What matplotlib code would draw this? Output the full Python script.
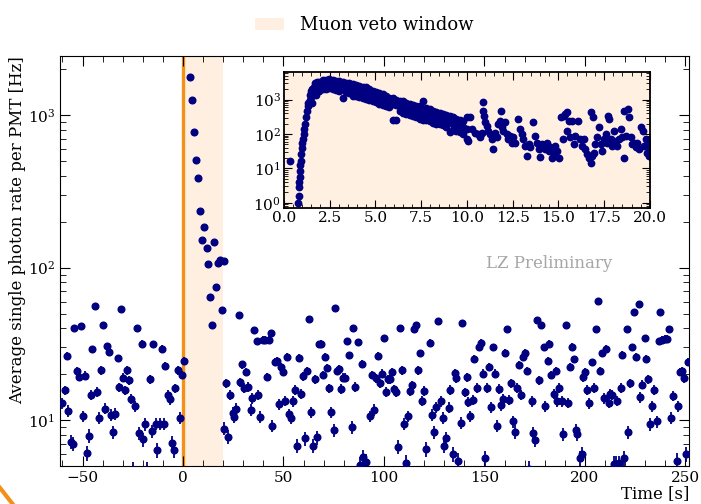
import numpy as np
import matplotlib
matplotlib.use("Agg")
import matplotlib.pyplot as plt
from matplotlib.patches import Patch
from matplotlib.lines import Line2D
from matplotlib.ticker import LogLocator, MultipleLocator, NullFormatter

# main panel: time since muon [s] and average SPE rate per PMT [Hz]
time_s = [
    -60.2, -58.9, -57.7, -57.1, -55.6, -54.6, -54.1, -52.9, -51.7, -50.9,
    -49.9, -48.6, -47.9, -46.9, -45.8, -45.1, -43.9, -42.8, -41.9, -40.9,
    -39.8, -38.7, -37.8, -36.8, -35.7, -34.8, -33.7, -32.5, -31.7, -30.8,
    -29.7, -28.9, -27.7, -26.7, -25.9, -25.0, -23.7, -22.9, -21.7, -20.5,
    -19.7, -18.7, -18.0, -16.6, -15.6, -14.8, -13.6, -12.8, -11.6, -10.4,
    -9.6, -8.8, -7.5, -6.6, -5.6, -4.5, -3.8, -2.6, -1.5, -0.6, 0.3,
    3.3, 4.5, 5.6, 6.5, 7.5, 8.6, 9.5, 10.4, 11.8, 12.3, 13.4, 14.6, 15.4,
    16.6, 17.6, 18.4, 19.4, 20.4,
    20.5, 21.2, 22.4, 23.5, 24.7, 25.4, 26.5, 27.7, 28.5, 29.5, 30.5, 31.5,
    32.5, 33.7, 34.5, 35.5, 36.7, 37.5, 38.5, 39.7, 40.6, 41.6, 42.8, 43.8,
    44.4, 45.6, 46.8, 47.6, 48.6, 49.8, 50.6, 51.7, 52.7, 53.6, 54.7, 55.7,
    56.6, 57.7, 58.7, 59.7, 60.8, 61.8, 62.5, 63.7, 64.7, 65.8, 66.7, 67.7,
    68.8, 69.8, 70.8, 71.8, 72.6, 73.8, 75.0, 75.8, 76.8, 77.8, 78.8, 79.8,
    80.8, 81.6, 82.7, 83.9, 84.7, 85.7, 86.9, 88.2, 88.9, 89.7, 90.8, 92.9,
    94.0, 94.9, 95.9, 97.0, 97.9, 99.0, 100.0, 100.8, 101.8, 103.0, 103.8,
    104.8, 105.8, 107.1, 108.0, 109.0, 110.1, 110.9, 112.1, 113.1, 113.9,
    114.9, 116.1, 116.9, 118.1, 118.9, 119.9, 121.1, 122.7, 124.0, 125.0,
    126.0, 127.0, 128.2, 129.2, 130.0, 131.0, 132.2, 133.0, 134.2, 135.3,
    136.0, 137.0, 138.2, 139.0, 140.2, 141.2, 141.9, 142.9, 144.3, 144.9,
    146.1, 147.3, 148.3, 149.1, 150.2, 151.4, 152.2, 153.2, 154.2, 155.2,
    156.2, 157.4, 158.1, 159.1, 160.2, 161.0, 162.2, 163.2, 164.0, 165.2,
    166.3, 167.3, 168.2, 169.3, 170.1, 171.3, 172.0, 173.5, 174.3, 175.3,
    176.3, 177.1, 178.3, 179.4, 180.3, 181.4, 182.3, 183.1, 184.4, 185.6,
    186.2, 187.2, 188.4, 189.2, 190.4, 191.4, 192.5, 193.4, 194.4, 195.4,
    196.0, 197.5, 198.5, 199.2, 200.2, 201.2, 202.0, 203.5, 204.5, 205.3,
    206.5, 207.5, 208.3, 209.5, 210.6, 211.8, 212.6, 213.6, 214.3, 215.2,
    216.0, 216.9, 217.8, 218.6, 219.4, 220.7, 221.4, 222.6, 223.5, 224.4,
    225.6, 226.7, 227.5, 228.5, 229.7, 230.5, 231.5, 232.5, 233.5, 234.5,
    235.7, 236.8, 237.5, 238.5, 239.7, 240.6, 241.6, 242.6, 243.6, 245.8,
    246.4, 247.4, 248.4, 249.4, 250.5, 251.5,
]
rate_hz = [
    12.9, 15.7, 26.3, 11.5, 7.2, 7.0, 40.1, 20.9, 19.2, 41.5,
    10.6, 19.6, 6.1, 7.9, 14.6, 29.1, 56.5, 15.3, 10.35, 21.2,
    42.2, 11.9, 30.6, 27.9, 10.8, 8.3, 11.0, 25.4, 16.4, 53.4,
    19.0, 15.7, 21.2, 18.3, 13.8, 4.7, 12.4, 40.1, 8.2, 31.8,
    7.5, 9.4, 4.7, 18.5, 8.5, 31.4, 9.5, 6.4, 9.5, 29.5,
    9.5, 22.6, 14.7, 13.7, 7.1, 6.4, 16.2, 21.2, 10.35, 19.8, 24.5,
    1783, 1267, 774, 512, 390, 234, 151, 184, 135, 105, 64, 42, 147,
    75, 108, 113, 53, 111,
    8.8, 17.4, 7.8, 14.6, 11.2, 10.5, 11.9, 48.8, 17.8, 23.2, 16.3, 20.7,
    16.5, 11.7, 13.9, 38.9, 33.0, 14.6, 10.5, 33.8, 33.8, 19.2, 33.8, 37.3,
    9.2, 24.1, 24.5, 12.7, 22.4, 20.7, 13.4, 26.0, 10.9, 10.4, 13.3, 15.8,
    6.8, 25.6, 14.8, 19.4, 7.6, 21.0, 46.4, 11.3, 6.8, 18.5, 7.7, 31.4,
    31.8, 19.8, 26.0, 22.1, 16.2, 11.3, 8.6, 54.5, 21.0, 21.8, 16.1, 19.0,
    19.0, 33.0, 26.7, 8.95, 40.1, 16.5, 32.6, 5.1, 23.5, 5.7, 5.3, 10.6,
    19.8, 11.7, 18.8, 26.3, 17.5, 20.2, 34.4, 15.3, 18.6, 18.6, 20.7,
    15.9, 15.3, 6.7, 40.1, 21.2, 9.5, 5.25, 10.6, 15.6, 17.0,
    39.5, 42.0, 21.2, 27.4, 13.4, 15.6, 6.5, 32.3, 10.8, 8.3,
    12.2, 44.6, 13.3, 10.3, 6.8, 7.6, 12.1, 15.8, 6.0, 20.4,
    18.8, 5.4, 9.6, 43.3, 15.2, 19.1, 13.2, 10.6, 13.6, 25.1,
    16.3, 30.0, 32.3, 20.2, 5.6, 16.3, 22.4, 12.2, 30.0, 20.2,
    9.2, 16.1, 12.5, 13.7, 27.6, 39.5, 13.6, 17.5, 9.8, 8.4,
    16.3, 23.0, 14.7, 26.0, 27.6, 21.0, 4.8, 13.3, 8.2, 7.4,
    45.3, 18.3, 42.0, 30.0, 12.4, 24.4, 31.8, 19.8, 14.8, 21.0,
    13.3, 16.3, 13.3, 8.1, 42.4, 13.0, 22.4, 30.3, 25.0, 8.6,
    8.1, 5.6, 6.0, 19.1, 20.7, 15.8, 12.9, 23.9, 16.3, 39.9,
    60.3, 21.0, 27.4, 13.9, 29.5, 13.0, 14.8, 14.6, 5.15, 5.15,
    13.4, 5.2, 16.3, 26.9, 5.6, 39.9, 8.3, 17.5, 30.0, 51.3,
    26.0, 58.2, 14.1, 17.1, 34.7, 25.3, 18.5, 9.4, 12.4, 15.8,
    9.8, 33.0, 51.3, 33.8, 34.3, 34.3, 39.9, 10.35, 14.5, 5.4,
    12.4, 20.7, 21.0, 18.8, 6.0, 24.1,
]

# inset: first 20 s after the muon, log10 of the rate
inset_rise_t = [0.31, 0.79, 0.80, 0.82, 0.84, 0.86, 0.88, 0.90, 0.93, 0.95,
                0.97, 1.00, 1.04, 1.08, 1.12, 1.15, 1.19, 1.25, 1.30, 1.34,
                1.40, 1.45, 1.50, 1.62, 1.70, 1.80]
inset_rise_log = [1.22, 0.00, 0.20, 0.45, 0.60, 0.75, 0.92, 1.10, 1.22, 1.41,
                  1.60, 1.75, 1.85, 2.00, 2.15, 2.30, 2.48, 2.68, 2.80, 2.90,
                  3.00, 3.12, 3.25, 3.38, 3.47, 3.52]

inset_band_t = [1.56, 1.74, 1.92, 2.11, 2.29, 2.47, 2.66, 2.84, 3.02, 3.21,
                3.39, 3.57, 3.75, 3.94, 4.12, 4.30, 4.49, 4.67, 4.85, 5.04,
                5.22, 5.40, 5.59, 5.77, 5.95, 6.14, 6.32, 6.50, 6.68, 6.87,
                7.05, 7.23, 7.42, 7.60, 7.78, 7.97, 8.15, 8.33, 8.52, 8.70,
                8.88, 9.07, 9.25, 9.43, 9.62, 9.80, 9.98]
inset_band_hi = [3.30, 3.45, 3.52, 3.56, 3.58, 3.60, 3.58, 3.55, 3.53, 3.50,
                 3.48, 3.47, 3.45, 3.43, 3.40, 3.38, 3.36, 3.30, 3.25, 3.22,
                 3.18, 3.15, 3.10, 3.05, 3.05, 3.00, 2.97, 2.95, 2.90, 2.88,
                 2.85, 2.82, 2.80, 2.97, 2.75, 2.72, 2.68, 2.65, 2.62, 2.58,
                 2.55, 2.52, 2.48, 2.45, 2.40, 2.38, 2.48]
inset_band_mid = [3.10, 3.30, 3.40, 3.45, 3.47, 3.48, 3.46, 3.42, 3.40, 3.38,
                  3.37, 3.35, 3.30, 3.28, 3.25, 3.22, 3.20, 3.15, 3.10, 3.07,
                  3.04, 3.00, 2.95, 2.92, 2.88, 2.85, 2.82, 2.78, 2.75, 2.72,
                  2.70, 2.66, 2.62, 2.60, 2.58, 2.55, 2.50, 2.48, 2.45, 2.42,
                  2.38, 2.35, 2.30, 2.25, 2.22, 2.20, 2.15]
inset_band_lo = [2.90, 3.12, 3.25, 3.30, 3.32, 3.33, 3.30, 3.28, 3.25, 3.05,
                 3.22, 3.20, 3.10, 3.10, 3.08, 3.05, 3.02, 3.00, 2.95, 2.92,
                 2.88, 2.85, 2.80, 2.78, 2.40, 2.42, 2.68, 2.62, 2.58, 2.55,
                 2.52, 2.50, 2.45, 2.42, 2.40, 2.38, 2.33, 2.30, 2.28, 2.25,
                 2.20, 2.05, 2.12, 2.08, 2.05, 2.00, 1.85]

inset_tail_t = [10.07, 10.16, 10.26, 10.44, 10.62, 10.71, 10.81, 10.90, 10.90, 10.95,
                10.99, 11.08, 11.17, 11.26, 11.36, 11.45, 11.54, 11.63, 11.72, 11.81,
                11.87, 11.90, 11.99, 12.09, 12.18, 12.27, 12.36, 12.45, 12.54, 12.64,
                12.82, 12.91, 13.00, 13.09, 13.18, 13.27, 13.37, 13.46, 13.64, 13.74,
                13.83, 13.92, 14.01, 14.10, 14.19, 14.29, 14.38, 14.47, 14.56, 14.65,
                14.74, 14.84, 14.93, 15.02, 15.16, 15.26, 15.30, 15.38, 15.48, 15.48,
                15.57, 15.66, 15.75, 15.84, 15.93, 16.10, 16.21, 16.30, 16.39, 16.48,
                16.57, 16.66, 16.76, 16.81, 16.85, 16.88, 16.94, 17.03, 17.12, 17.22,
                17.31, 17.40, 17.49, 17.58, 17.67, 17.73, 17.77, 17.86, 17.95, 18.04,
                18.13, 18.22, 18.30, 18.40, 18.49, 18.59, 18.59, 18.68, 18.81, 18.86,
                18.96, 19.05, 19.14, 19.23, 19.32, 19.41, 19.51, 19.60, 19.69, 19.78,
                19.87, 19.96, 20.00, 20.00]
inset_tail_log = [1.80, 2.48, 2.14, 2.04, 2.00, 1.90, 2.04, 2.92, 2.68, 2.53,
                  2.34, 2.24, 2.09, 2.00, 1.85, 1.56, 2.04, 1.90, 2.29, 2.39,
                  2.68, 2.19, 2.09, 2.34, 2.00, 1.85, 1.95, 1.75, 1.90, 1.75,
                  2.43, 2.14, 2.00, 1.85, 1.66, 1.36, 1.70, 1.61, 2.34, 1.95,
                  1.75, 1.56, 1.33, 1.70, 1.65, 1.56, 1.75, 1.51, 1.61, 1.31,
                  1.46, 1.65, 1.51, 1.31, 2.48, 1.85, 2.53, 2.58, 2.63, 2.09,
                  2.39, 1.90, 2.39, 1.70, 1.95, 2.39, 1.85, 1.65, 1.85, 1.56,
                  1.41, 1.31, 1.17, 2.63, 1.36, 2.48, 1.46, 1.70, 1.90, 2.19,
                  1.70, 1.51, 1.85, 2.00, 1.75, 2.53, 2.43, 1.85, 1.65, 2.09,
                  1.80, 1.65, 1.85, 2.14, 1.90, 1.31, 2.68, 1.95, 2.73, 2.48,
                  1.90, 1.70, 1.75, 1.61, 1.75, 1.56, 2.19, 2.09, 1.65, 1.85,
                  1.46, 1.36, 1.56, 1.75]

plt.rcParams['font.family'] = ['DejaVu Serif']
plt.rcParams['mathtext.fontset'] = 'dejavuserif'

veto_color = '#ff7f0e'
dot_color = 'navy'

fig = plt.figure(figsize=(7.01, 5.04), dpi=100)
ax = fig.add_axes([0.0856, 0.0754, 0.8974, 0.8135])

t = np.array(time_s)
r = np.array(rate_hz)
# poisson-like error bars, only visible at low rates
err = np.sqrt(r / 12.0)
ax.axvspan(0, 20, color=veto_color, alpha=0.12, lw=0, zorder=0)
ax.axvline(0, color='#f39019', lw=2.4, zorder=1)
ax.errorbar(t, r, yerr=err, fmt='o', color=dot_color, ms=4.8,
            elinewidth=1.3, capsize=0, zorder=3)

ax.set_yscale('log')
ax.set_xlim(-61.2, 251.8)
ax.set_ylim(5.0, 2450)
ax.xaxis.set_major_locator(MultipleLocator(50))
ax.xaxis.set_minor_locator(MultipleLocator(10))
ax.tick_params(which='both', direction='in', top=True, right=True, labelsize=11)
ax.tick_params(which='major', length=7)
ax.tick_params(which='minor', length=4)
ax.set_ylabel('Average single photon rate per PMT [Hz]', fontsize=12,
              loc='top', labelpad=1)
ax.set_xlabel('Time [s]', fontsize=12, loc='right', labelpad=0)
ax.text(182, 107, 'LZ Preliminary', color='#a6a6a6', fontsize=12,
        ha='center', va='center')

# inset zoom on the veto window
axin = fig.add_axes([0.405, 0.587, 0.522, 0.270])
axin.set_facecolor('#fff0e2')
ins_t = inset_rise_t + inset_band_t * 3 + inset_tail_t
ins_log = inset_rise_log + inset_band_hi + inset_band_mid + inset_band_lo + inset_tail_log
axin.plot(ins_t, 10 ** np.array(ins_log), 'o', color=dot_color, ms=4.6)
axin.set_yscale('log')
axin.set_xlim(0, 20)
axin.set_ylim(0.7, 6300)
axin.xaxis.set_major_locator(MultipleLocator(2.5))
axin.xaxis.set_minor_locator(MultipleLocator(0.5))
axin.yaxis.set_major_locator(LogLocator(base=10, numticks=10))
axin.yaxis.set_minor_locator(LogLocator(base=10, subs=np.arange(2, 10), numticks=10))
axin.yaxis.set_minor_formatter(NullFormatter())
axin.tick_params(which='both', direction='in', top=True, right=True, labelsize=11, pad=2)
axin.tick_params(which='major', length=6)
axin.tick_params(which='minor', length=3)
for sp in axin.spines.values():
    sp.set_linewidth(1.3)

handle = Patch(facecolor=veto_color, alpha=0.12, edgecolor='none')
fig.legend([handle], ['Muon veto window'], loc='upper center',
           bbox_to_anchor=(0.52, 1.0), frameon=False, fontsize=13,
           handlelength=1.6, handletextpad=0.9)

# stray orange mark in the lower-left corner of the original
fig.add_artist(Line2D([0.0, 0.018], [0.032, 0.0], transform=fig.transFigure,
                      color='#f39019', lw=3))

fig.savefig('out.png', dpi=100)
